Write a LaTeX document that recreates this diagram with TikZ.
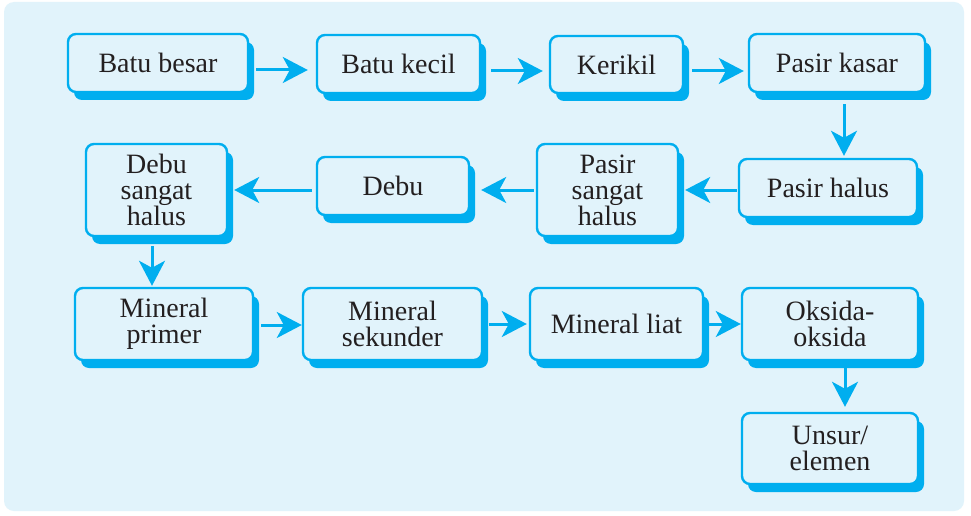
\documentclass[tikz,border=0pt]{standalone}
\usepackage{fontspec}
\setmainfont{Liberation Serif}
\usetikzlibrary{arrows.meta,shadows}
\definecolor{bgblue}{HTML}{E1F3FB}
\definecolor{cyanb}{HTML}{00AEEF}
\definecolor{txt}{HTML}{231F20}
\begin{document}
\begin{tikzpicture}[x=1pt,y=-1pt,
  box/.style={rectangle, rounded corners=8pt, draw=cyanb, line width=2.4pt, fill=bgblue, text=txt, align=center, inner sep=0pt, font=\fontsize{28pt}{26pt}\selectfont, drop shadow={shadow xshift=6pt, shadow yshift=-8pt, fill=cyanb, opacity=1, draw=none}},
  arr/.style={draw=cyanb, line width=3pt, -{Stealth[length=25pt,width=26pt,inset=7pt]}}]
\useasboundingbox (0,0) rectangle (971,516);
\fill[white] (0,0) rectangle (971,516);
\fill[bgblue, rounded corners=10pt] (4,2) rectangle (964,511);

\node[box, minimum width=180pt, minimum height=58pt] (bb) at (158,63) {Batu besar};
\node[box, minimum width=163pt, minimum height=58pt] (bk) at (398.5,64) {Batu kecil};
\node[box, minimum width=133pt, minimum height=57pt] (kr) at (616.5,64.5) {Kerikil};
\node[box, minimum width=176pt, minimum height=58pt] (pk) at (837,63) {Pasir kasar};
\node[box, minimum width=178pt, minimum height=58pt] (ph) at (828,188) {Pasir halus};
\node[box, minimum width=141pt, minimum height=92pt] (psh) at (607.5,190) {Pasir\\sangat\\halus};
\node[box, minimum width=152pt, minimum height=58pt] (db) at (393,186) {Debu};
\node[box, minimum width=141pt, minimum height=92pt] (dsh) at (156.5,190) {Debu\\sangat\\halus};
\node[box, minimum width=178pt, minimum height=72pt] (mp) at (164,324) {Mineral\\primer};
\node[box, minimum width=179pt, minimum height=72pt] (ms) at (392.5,324) {Mineral\\sekunder};
\node[box, minimum width=173pt, minimum height=72pt] (ml) at (616.5,324) {Mineral liat};
\node[box, minimum width=176pt, minimum height=72pt] (oo) at (830,324) {Oksida-\\oksida};
\node[box, minimum width=176pt, minimum height=71pt] (ue) at (830,448.5) {Unsur/\\elemen};

% row 1
\draw[arr, shorten <=7pt, shorten >=8pt] ([yshift=-7pt]bb.east) -- ([yshift=-7pt]bb.east -| bk.west);
\draw[arr, shorten <=10pt, shorten >=6pt] ([yshift=-7pt]bk.east) -- ([yshift=-7pt]bk.east -| kr.west);
\draw[arr, shorten <=8pt, shorten >=4pt] ([yshift=-6.5pt]kr.east) -- ([yshift=-6.5pt]kr.east -| pk.west);
\draw[arr, shorten <=11pt, shorten >=2pt] ([xshift=7pt]pk.south) -- ([xshift=7pt]pk.south |- ph.north);
% row 2
\draw[arr, shorten <=1pt, shorten >=6pt] (ph.west |- psh.east) -- (psh.east);
\draw[arr, shorten <=2pt, shorten >=11pt] (psh.west) -- (psh.west -| db.east);
\draw[arr, shorten <=4pt, shorten >=6pt] (db.west |- dsh.east) -- (dsh.east);
\draw[arr, shorten <=9pt, shorten >=1pt] ([xshift=-4.5pt]dsh.south) -- ([xshift=-4.5pt]dsh.south |- mp.north);
% row 3
\draw[arr, shorten <=7pt, shorten >=0pt] ([yshift=-1pt]mp.east) -- ([yshift=-1pt]mp.east -| ms.west);
\draw[arr, shorten <=6pt, shorten >=2pt] (ms.east) -- (ml.west);
\draw[arr, shorten <=4pt, shorten >=0pt] (ml.east) -- (oo.west);
\draw[arr, shorten <=7pt, shorten >=5pt] ([xshift=15pt]oo.south) -- ([xshift=15pt]oo.south |- ue.north);
\end{tikzpicture}
\end{document}
